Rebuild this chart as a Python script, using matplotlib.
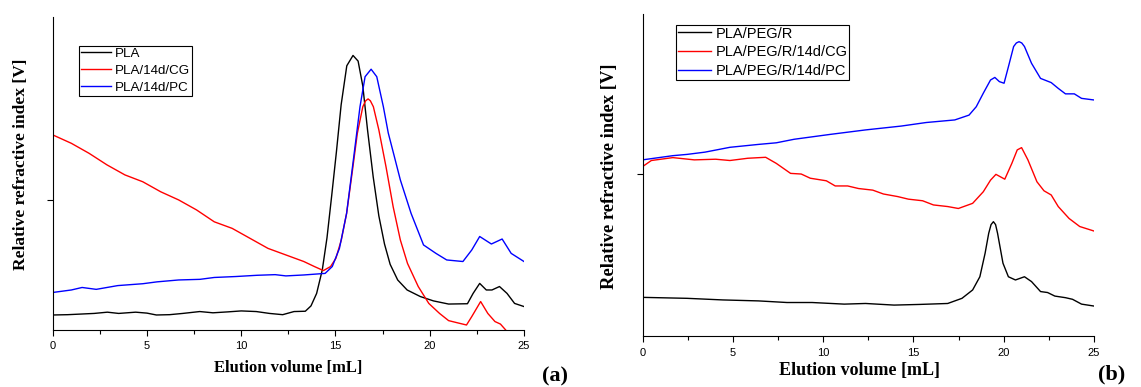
import matplotlib
matplotlib.use("Agg")
import matplotlib.pyplot as plt
from matplotlib.ticker import MultipleLocator

# ---- panel (a): PLA series, elution volume [mL] vs relative signal (a.u.)
a_pla_x = [0, 0.8, 1.5, 2.2, 2.9, 3.5, 4.4, 5.0, 5.5, 6.2, 6.9, 7.8, 8.5, 9.3,
           10.0, 10.8, 11.5, 12.2, 12.8, 13.4, 13.7, 14.0, 14.3, 14.55, 14.8,
           15.05, 15.3, 15.6, 15.93, 16.2, 16.45, 16.7, 17.0, 17.3, 17.6, 17.9,
           18.3, 18.8, 19.5, 20.2, 21.0, 22.0, 22.3, 22.65, 23.0, 23.3, 23.7,
           24.1, 24.5, 25.0]
a_pla_y = [4.8, 4.9, 5.1, 5.3, 5.7, 5.3, 5.7, 5.4, 4.8, 4.9, 5.3, 5.9, 5.5, 5.8,
           6.1, 5.9, 5.3, 4.9, 5.9, 6.0, 7.7, 11.7, 19.2, 29.5, 43.0,
           57.0, 72.0, 84.5, 87.8, 86.0, 78.0, 64.0, 49.0, 36.5, 27.5, 21.0,
           16.0, 12.8, 10.7, 9.3, 8.3, 8.4, 11.7, 14.9, 12.8, 12.8, 13.9,
           11.7, 8.5, 7.5]

a_cg_x = [0, 0.99, 1.93, 2.88, 3.83, 4.78, 5.73, 6.68, 7.63, 8.57, 9.52, 10.47,
          11.42, 12.37, 13.32, 13.88, 14.36, 14.74, 15.02, 15.31, 15.59, 15.88,
          16.16, 16.45, 16.6, 16.73, 16.85, 17.01, 17.30, 17.68, 18.06, 18.44,
          18.82, 19.39, 19.95, 20.52, 21.0, 21.47, 21.95, 22.23, 22.70, 23.08,
          23.46, 23.75, 24.03, 24.3]
a_cg_y = [62.4, 59.7, 56.5, 52.8, 49.6, 47.4, 44.2, 41.6, 38.4, 34.6, 32.5, 29.3,
          26.1, 24.0, 21.9, 20.3, 19.0, 20.3, 22.9, 28.8, 37.3, 50.1,
          62.9, 71.4, 73.3, 73.9, 73.3, 71.4, 64.0, 52.2, 39.4, 28.8,
          21.3, 13.9, 8.5, 5.3, 3.0, 2.3, 1.6, 4.3, 9.1, 5.3,
          2.7, 1.9, 0.0, -3.0]

a_pc_x = [0, 0.99, 1.56, 2.31, 2.88, 3.45, 4.78, 5.54, 6.68, 7.81, 8.57, 9.71,
          10.85, 11.80, 12.37, 13.32, 14.45, 14.83, 15.21, 15.59, 15.97, 16.3,
          16.57, 16.89, 17.19, 17.54, 17.8, 18.1, 18.44, 19.01, 19.67, 20.33,
          20.90, 21.76, 22.23, 22.65, 23.27, 23.84, 24.32, 25.0]
a_pc_y = [12.0, 12.8, 13.6, 13.0, 13.6, 14.2, 14.8, 15.4, 16.0, 16.2, 16.8, 17.1,
          17.5, 17.7, 17.3, 17.6, 18.1, 20.3, 26.1, 37.3, 55.4, 71.4,
          81.0, 83.4, 81.0, 71.4, 63.0, 56.0, 48.0, 37.3, 27.2, 24.5,
          22.4, 21.9, 25.6, 29.9, 27.5, 29.1, 24.5, 21.9]

# ---- panel (b): PLA/PEG/R series
b_r_x = [0, 2.47, 4.45, 6.42, 8.0, 9.39, 11.17, 12.35, 13.93, 15.32, 16.90,
         17.69, 18.28, 18.68, 18.97, 19.17, 19.3, 19.43, 19.55, 19.66, 19.96,
         20.26, 20.65, 21.15, 21.54, 22.04, 22.43, 22.83, 23.42, 23.81, 24.31,
         25.0]
b_r_y = [12.0, 11.7, 11.2, 10.9, 10.4, 10.4, 9.9, 10.1, 9.6, 9.8, 10.1,
         11.7, 14.3, 18.4, 25.7, 31.9, 34.6, 35.5, 34.6, 31.9, 22.6,
         18.4, 17.4, 18.4, 16.9, 13.8, 13.5, 12.4, 11.9, 11.4, 9.9,
         9.3]

b_cg_x = [0, 0.49, 1.68, 2.87, 4.05, 4.84, 5.83, 6.82, 7.41, 8.20, 8.79, 9.29,
          10.18, 10.67, 11.36, 11.96, 12.75, 13.34, 14.13, 14.72, 15.51, 16.11,
          16.90, 17.49, 18.28, 18.87, 19.27, 19.57, 20.06, 20.45, 20.75, 20.99,
          21.34, 21.84, 22.23, 22.63, 23.02, 23.62, 24.21, 25.0]
b_cg_y = [52.6, 54.5, 55.4, 54.7, 54.9, 54.5, 55.2, 55.5, 53.6, 50.5, 50.3, 49.0,
          48.2, 46.6, 46.6, 45.8, 45.3, 44.1, 43.3, 42.5, 42.0, 40.7,
          40.2, 39.6, 41.2, 44.8, 48.4, 50.2, 48.7, 53.6, 57.8, 58.5,
          54.7, 47.9, 45.1, 43.8, 40.2, 36.5, 34.0, 32.6]

b_pc_x = [0, 1.68, 2.47, 3.46, 4.84, 6.42, 7.41, 8.40, 10.38, 12.35, 14.33,
          15.71, 17.29, 18.08, 18.48, 18.87, 19.27, 19.51, 19.76, 20.02, 20.26,
          20.55, 20.7, 20.85, 21.0, 21.15, 21.54, 22.04, 22.63, 23.02, 23.42,
          23.91, 24.31, 25.0]
b_pc_y = [54.7, 56.0, 56.4, 57.1, 58.6, 59.5, 60.0, 61.1, 62.6, 64.0, 65.2,
          66.3, 67.1, 68.6, 71.2, 75.4, 79.5, 80.3, 79.0, 78.5, 83.6,
          89.9, 91.0, 91.4, 91.0, 89.9, 84.7, 80.0, 78.7, 76.9, 75.2,
          75.2, 73.8, 73.3]

a_labels = ["PLA", "PLA/14d/CG", "PLA/14d/PC"]
b_labels = ["PLA/PEG/R", "PLA/PEG/R/14d/CG", "PLA/PEG/R/14d/PC"]
COLORS = ["black", "#ff0000", "#0000ff"]

SANS = "Liberation Sans"
SERIF = "Liberation Serif"
W, H = 1141, 387


def style_axes(ax, ytick, xlab_size, ylab_size, xlab_pos, ylab_pos, pad):
    for s in ("top", "right"):
        ax.spines[s].set_visible(False)
    ax.set_xlim(0, 25)
    ax.set_ylim(0, 100)
    ax.xaxis.set_major_locator(MultipleLocator(5))
    ax.xaxis.set_minor_locator(MultipleLocator(2.5))
    ax.set_yticks([ytick])
    ax.set_yticklabels([])
    ax.tick_params(direction="out", length=4.3, width=0.8, labelsize=8, pad=pad)
    ax.tick_params(which="minor", direction="out", length=2.7, width=0.8)
    for t in ax.get_xticklabels():
        t.set_fontfamily(SANS)
    ax.set_xlabel("Elution volume [mL]", family=SERIF, weight="bold",
                  fontsize=xlab_size, va="center")
    ax.set_ylabel("Relative refractive index [V]", family=SERIF, weight="bold",
                  fontsize=ylab_size, va="center")
    ax.xaxis.set_label_coords(*xlab_pos)
    ax.yaxis.set_label_coords(*ylab_pos)


fig = plt.figure(figsize=(W / 100, H / 100), dpi=100)
ax_a = fig.add_axes([52.7 / W, (H - 330) / H, 471.3 / W, 312.7 / H])
ax_b = fig.add_axes([642.5 / W, (H - 336) / H, 451.5 / W, 322 / H])

for (x, y), lab, c in zip([(a_pla_x, a_pla_y), (a_cg_x, a_cg_y), (a_pc_x, a_pc_y)],
                          a_labels, COLORS):
    ax_a.plot(x, y, color=c, lw=1.0, label=lab)
for (x, y), lab, c in zip([(b_r_x, b_r_y), (b_cg_x, b_cg_y), (b_pc_x, b_pc_y)],
                          b_labels, COLORS):
    ax_b.plot(x, y, color=c, lw=1.0, label=lab)

style_axes(ax_a, 41.6, 12, 12.5, (0.5, -0.1215), (-0.0673, 0.531), 3.6)
style_axes(ax_b, 50.3, 13, 13.4, (0.48, -0.1056), (-0.072, 0.497), 4.5)

leg_kw = dict(loc="upper left", fancybox=False, framealpha=1, edgecolor="black",
              handletextpad=0.3, borderaxespad=0, handlelength=2.3)
la = ax_a.legend(bbox_to_anchor=(78.7 / W, 1 - 45.7 / H),
                 bbox_transform=fig.transFigure, borderpad=0.14, labelspacing=0.36,
                 prop={"family": SANS, "size": 9.6}, **leg_kw)
lb = ax_b.legend(bbox_to_anchor=(676 / W, 1 - 25 / H),
                 bbox_transform=fig.transFigure, borderpad=0.11, labelspacing=0.32,
                 prop={"family": SANS, "size": 10.5}, **leg_kw)
for lg in (la, lb):
    lg.get_frame().set_linewidth(0.8)

fig.text(542 / W, 1 - 366 / H, "(a)", family=SERIF, weight="bold",
         fontsize=16, va="top")
fig.text(1098 / W, 1 - 364 / H, "(b)", family=SERIF, weight="bold",
         fontsize=16, va="top")

fig.savefig("out.png", dpi=100)
